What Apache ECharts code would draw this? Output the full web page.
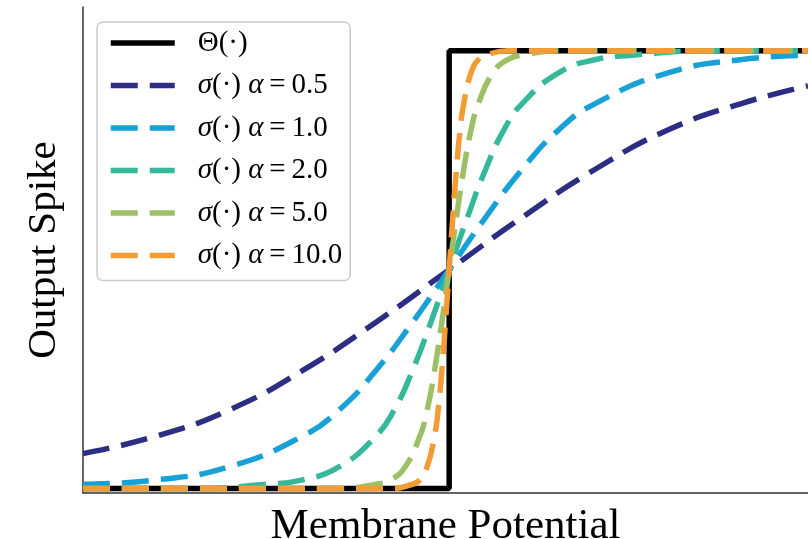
<!DOCTYPE html>
<html>
<head>
<meta charset="utf-8">
<script src="https://cdn.jsdelivr.net/npm/echarts@6/dist/echarts.min.js"></script>
<style>html,body{margin:0;padding:0;background:#fff}#c{width:808px;height:539px}</style>
</head>
<body>
<div id="c"></div>
<script>
// Series names
var seriesNames = ['Θ(·)', 'σ(·) α=0.5', 'σ(·) α=1.0', 'σ(·) α=2.0', 'σ(·) α=5.0', 'σ(·) α=10.0'];

// Heaviside step
var stepX = [-5, 0, 0, 4.9];
var stepY = [0, 0, 1, 1];

// alpha = 0.5
var a05X = [-5, -4, -3, -2, -1, 0, 1, 2, 3, 4, 4.9];
var a05Y = [0.08, 0.12, 0.18, 0.27, 0.38, 0.50, 0.62, 0.73, 0.82, 0.88, 0.92];

// alpha = 1.0
var a1X = [-5, -4, -3, -2, -1.5, -1, -0.5, 0, 0.5, 1, 1.5, 2, 3, 4, 4.9];
var a1Y = [0.01, 0.02, 0.05, 0.12, 0.18, 0.27, 0.38, 0.50, 0.62, 0.73, 0.82, 0.88, 0.95, 0.98, 0.99];

// alpha = 2.0
var a2X = [-5, -3.5, -2.5, -2, -1.5, -1, -0.75, -0.5, -0.25, 0, 0.25, 0.5, 0.75, 1, 1.5, 2, 2.5, 3.5, 4.9];
var a2Y = [0.00, 0.00, 0.01, 0.02, 0.05, 0.12, 0.18, 0.27, 0.38, 0.50, 0.62, 0.73, 0.82, 0.88, 0.95, 0.98, 0.99, 1.0, 1.0];

// alpha = 5.0
var a5X = [-5, -1.5, -1, -0.8, -0.6, -0.4, -0.3, -0.2, -0.1, 0, 0.1, 0.2, 0.3, 0.4, 0.6, 0.8, 1, 1.5, 4.9];
var a5Y = [0, 0, 0.01, 0.02, 0.05, 0.12, 0.18, 0.27, 0.38, 0.50, 0.62, 0.73, 0.82, 0.88, 0.95, 0.98, 0.99, 1, 1];

// alpha = 10.0
var a10X = [-5, -0.8, -0.5, -0.4, -0.3, -0.2, -0.15, -0.1, -0.05, 0, 0.05, 0.1, 0.15, 0.2, 0.3, 0.4, 0.5, 0.8, 4.9];
var a10Y = [0, 0, 0.01, 0.02, 0.05, 0.12, 0.18, 0.27, 0.38, 0.50, 0.62, 0.73, 0.82, 0.88, 0.95, 0.98, 0.99, 1, 1];

var colors = ['#000000', '#2d2e83', '#18a1d6', '#36b99b', '#9dc066', '#f39c36'];
var dashPattern = [27, 12];

function pairs(xs, ys) { return xs.map(function (x, i) { return [x, ys[i]]; }); }

var dataSets = [pairs(stepX, stepY), pairs(a05X, a05Y), pairs(a1X, a1Y), pairs(a2X, a2Y), pairs(a5X, a5Y), pairs(a10X, a10Y)];

var serif = '"Liberation Serif", "Times New Roman", serif';

var series = dataSets.map(function (d, i) {
  return {
    name: seriesNames[i],
    type: 'line',
    data: d,
    symbol: 'none',
    smooth: i === 0 ? false : 0.5,
    z: 2 + i,
    lineStyle: {
      color: colors[i],
      width: 5.5,
      type: i === 0 ? 'solid' : dashPattern,
      cap: 'butt'
    },
    itemStyle: { color: colors[i] },
    animation: false
  };
});

var legendData = seriesNames.map(function (n, i) {
  return {
    name: n,
    itemStyle: { color: 'rgba(0,0,0,0)', opacity: 0, borderWidth: 0 },
    lineStyle: { color: colors[i], width: 5.5, type: i === 0 ? 'solid' : dashPattern, opacity: 1 }
  };
});

var chart = echarts.init(document.getElementById('c'));
chart.setOption({
  backgroundColor: '#ffffff',
  animation: false,
  grid: { left: 83, right: 0, top: 7, bottom: 46, containLabel: false, outerBoundsMode: 'none' },
  xAxis: {
    type: 'value', min: -5, max: 4.9,
    axisLine: { show: true, onZero: false, lineStyle: { color: '#333', width: 1.5 } },
    axisTick: { show: false }, axisLabel: { show: false }, splitLine: { show: false },
    name: 'Membrane Potential', nameLocation: 'middle', nameGap: 12,
    nameTextStyle: { fontFamily: serif, fontSize: 43, color: '#000' }
  },
  yAxis: {
    type: 'value', min: -0.01, max: 1.1,
    axisLine: { show: true, onZero: false, lineStyle: { color: '#333', width: 1.5 } },
    axisTick: { show: false }, axisLabel: { show: false }, splitLine: { show: false },
    name: 'Output Spike', nameLocation: 'middle', nameGap: 18,
    nameTextStyle: { fontFamily: serif, fontSize: 41, color: '#000' }
  },
  legend: {
    orient: 'vertical', left: 97, top: 22,
    padding: [6, 8, 10, 11],
    itemWidth: 64, itemHeight: 14, itemGap: 12.5,
    borderColor: '#cccccc', borderWidth: 1.5, borderRadius: 6,
    backgroundColor: '#ffffff',
    itemStyle: { color: 'rgba(0,0,0,0)', opacity: 0, borderWidth: 0 },
    lineStyle: { width: 5.5 },
    data: legendData,
    formatter: function (name) {
      if (name.indexOf('σ') === 0) {
        return '{i|σ}{n|(·) }{i|α}{n|\u2009=\u2009' + name.split('=')[1] + '}';
      }
      return '{n|' + name + '}';
    },
    textStyle: {
      fontFamily: serif, fontSize: 29, color: '#000', lineHeight: 30, padding: [0, 0, 0, 18],
      rich: {
        i: { fontFamily: serif, fontSize: 29, fontStyle: 'italic', color: '#000', lineHeight: 30 },
        n: { fontFamily: serif, fontSize: 29, color: '#000', lineHeight: 30 }
      }
    }
  },
  series: series
});
</script>
</body>
</html>
